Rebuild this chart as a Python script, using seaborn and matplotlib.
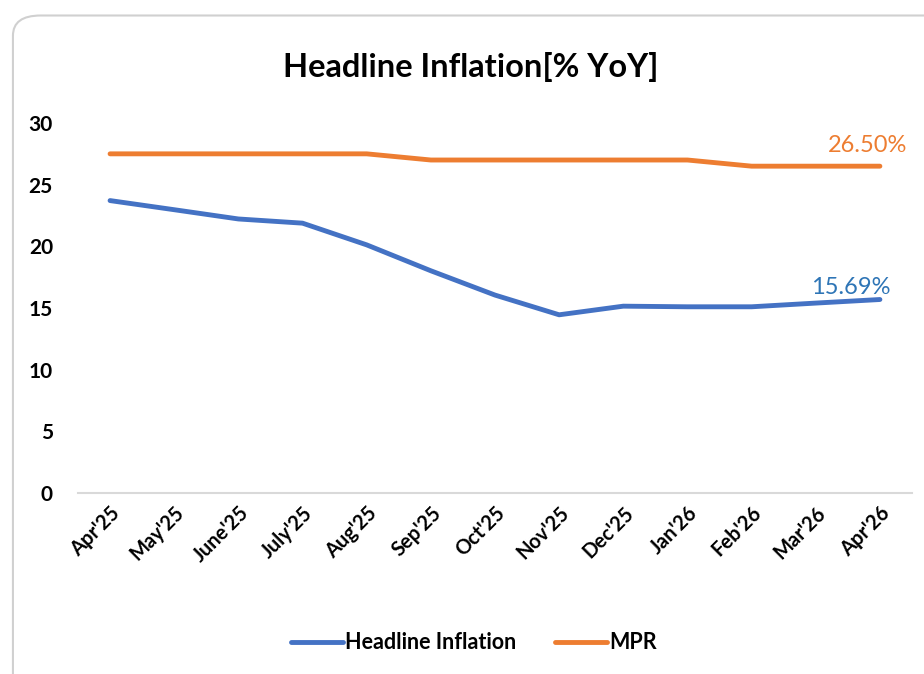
# Headline inflation vs MPR line chart
import pandas as pd
import matplotlib.pyplot as plt
import seaborn as sns
from matplotlib.patches import FancyBboxPatch

months = ["Apr'25", "May'25", "June'25", "July'25", "Aug'25", "Sep'25", "Oct'25",
          "Nov'25", "Dec'25", "Jan'26", "Feb'26", "Mar'26", "Apr'26"]
headline = [23.71, 22.97, 22.22, 21.88, 20.12, 18.02, 16.05,
            14.45, 15.15, 15.10, 15.10, 15.40, 15.69]
mpr = [27.5, 27.5, 27.5, 27.5, 27.5, 27.0, 27.0,
       27.0, 27.0, 27.0, 26.5, 26.5, 26.5]

BLUE = "#4472C4"
ORANGE = "#ED7D31"


def main() -> None:
    sns.set_style("white")
    plt.rcParams["font.family"] = ["Lato", "DejaVu Sans"]
    plt.rcParams["text.color"] = "black"
    plt.rcParams["xtick.color"] = "black"
    plt.rcParams["ytick.color"] = "black"

    df = pd.DataFrame({"month": months, "Headline Inflation": headline, "MPR": mpr})
    long = df.melt(id_vars="month", var_name="series", value_name="value")

    fig = plt.figure(figsize=(9.24, 6.74), dpi=100)
    card = FancyBboxPatch((0.014, -0.05), 1.05, 1.027, boxstyle="round,pad=0,rounding_size=0.03",
                          transform=fig.transFigure, facecolor="white",
                          edgecolor="#d0d0d0", linewidth=1.5, zorder=-5)
    fig.patches.append(card)

    ax = fig.add_axes([0.0844, 0.2685, 0.9026, 0.549])
    ax.set_zorder(2)
    ax.set_facecolor("none")
    sns.lineplot(data=long, x="month", y="value", hue="series", sort=False,
                 palette={"Headline Inflation": BLUE, "MPR": ORANGE},
                 linewidth=3.5, ax=ax)

    ax.set_xlim(-0.5, len(months) - 0.5)
    ax.set_ylim(0, 30)
    ax.set_yticks(range(0, 31, 5))
    ax.set_xlabel("")
    ax.set_ylabel("")
    for s in ["top", "right", "left"]:
        ax.spines[s].set_visible(False)
    ax.spines["bottom"].set_color("#d9d9d9")
    ax.spines["bottom"].set_linewidth(1.5)
    ax.tick_params(axis="y", length=0, pad=18, labelsize=15)
    ax.tick_params(axis="x", length=0, pad=7, labelsize=14.5)
    for lab in ax.get_yticklabels():
        lab.set_fontweight("bold")
    plt.setp(ax.get_xticklabels(), rotation=45, ha="right", rotation_mode="anchor",
             fontweight="bold")

    ax.text(len(months) - 1.2, mpr[-1] + 0.8, "26.50%", color=ORANGE, fontsize=17,
            ha="center", va="bottom")
    ax.text(len(months) - 1.45, headline[-1] + 0.1, "15.69%", color="#2E75B6", fontsize=17,
            ha="center", va="bottom")

    fig.text(0.51, 0.9, "Headline Inflation[% YoY]", ha="center", va="center",
             fontsize=23.5, fontweight="bold")

    handles, labels = ax.get_legend_handles_labels()
    ax.legend(handles, labels, loc="center", bbox_to_anchor=(0.513, 0.046),
              bbox_transform=fig.transFigure, ncol=2, frameon=False,
              prop={"weight": "bold", "size": 15.5}, handlelength=2.4,
              handletextpad=0.1, columnspacing=1.8)

    plt.savefig("out.png", dpi=100)


if __name__ == "__main__":
    main()
